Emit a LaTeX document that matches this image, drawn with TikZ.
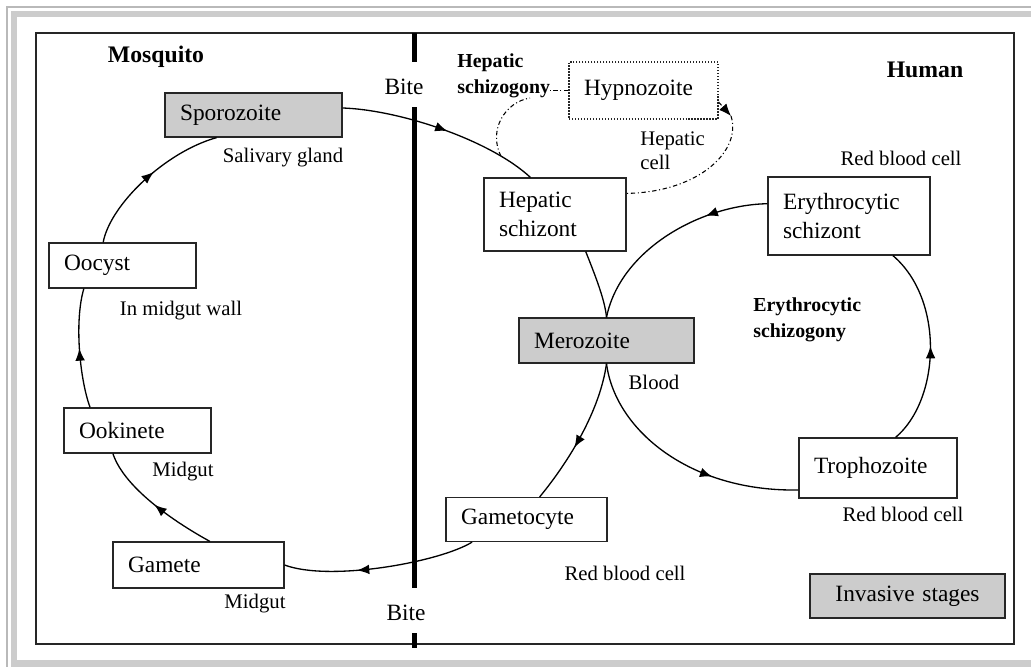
\documentclass[tikz,border=0pt]{standalone}
\usepackage{fontspec}
\setmainfont{Liberation Serif}
\usetikzlibrary{arrows.meta}
\usetikzlibrary{decorations.markings}
\usetikzlibrary{positioning}

\newcommand\stagefont{\fontsize{13.3}{16.5}\selectfont}
\newcommand\notefont{\fontsize{11.8}{13.8}\selectfont}
\newcommand\headfont{\fontsize{13.5}{16}\selectfont\bfseries}
\newcommand\subheadfont{\fontsize{11.3}{14.5}\selectfont\bfseries}
\definecolor{stagegray}{gray}{0.8}

\tikzset{
    stage/.style 2 args={draw=black!85, line width=0.7pt, text width=#1cm,
        minimum height=#2cm, inner xsep=0.3cm, align=left, font=\stagefont},
    note/.style={font=\notefont, inner sep=0pt},
    lifeline/.style={line width=0.75pt},
    midarrow/.style={postaction={decorate}, decoration={markings,
        mark=at position #1 with {\arrow{Latex[length=7pt, width=5.5pt]}}}},
    hepdash/.style={line width=0.6pt, dash pattern=on 2.5pt off 1.5pt on 0.6pt off 1.5pt},
}

\begin{document}
\begin{tikzpicture}[x=0.02cm, y=-0.02cm]
    \useasboundingbox (0,0) rectangle (1031,667);
    \draw[gray!55, line width=0.6pt] (1031,7) -- (7,7) -- (7,667);
    \draw[gray!40, line width=3.5pt] (1031,14) -- (14,14) -- (14,663.5) -- (1031,663.5);
    \draw[black!85, line width=1pt] (36,33) rectangle (1014,644);
    \foreach \a/\b in {33/62, 107/588, 633/648}
        \draw[line width=2.4pt] (414.5,\a) -- (414.5,\b);

    % mosquito side
    \node[stage={2.94}{0.88}, fill=stagegray] (spor) at (253.5,115) {Sporozoite};
    \node[stage={2.34}{0.9}] (oocyst) at (122.5,265.5) {Oocyst};
    \node[stage={2.34}{0.9}] (ookin) at (137.5,430.5) {Ookinete};
    \node[stage={2.82}{0.92}] (gamete) at (198.5,565) {Gamete};

    % human side
    \node[stage={2.38}{1.14}, densely dotted] (hypno) at (643.5,90.5) {Hypnozoite};
    \node[stage={2.24}{1.46}] (hschiz) at (555,214.5) {Hepatic\\schizont};
    \node[stage={2.64}{1.56}] (eschiz) at (849,216) {Erythrocytic\\schizont};
    \node[stage={2.90}{0.9}, fill=stagegray] (mero) at (606.5,340.5) {Merozoite};
    \node[stage={2.56}{1.2}] (troph) at (878,468) {Trophozoite};
    \node[stage={2.62}{0.88}] (gcyte) at (526.5,519.5) {Gametocyte};
    \node[stage={3.30}{0.88}, fill=stagegray, align=center] (invasive) at (907.5,596) {Invasive stages};

    % labels
    \node[font=\headfont] (mosquito) at (156,57) {Mosquito};
    \node[font=\headfont] (human) at (925,70) {Human};
    \node[font=\stagefont, inner sep=0pt] (bitetop) at (404,87) {Bite};
    \node[font=\stagefont, inner sep=0pt] (bitebot) at (406,613) {Bite};
    \node[note] (salivary) at (283,158) {Salivary gland};
    \node[note] (midwall) at (181,311) {In midgut wall};
    \node[note] (midgut1) at (183,472) {Midgut};
    \node[note] (midgut2) at (255,604) {Midgut};
    \node[note] (rbcgcyte) at (625,573) {Red blood cell};
    \node[note] (blood) at (654,382) {Blood};
    \node[note] (rbctroph) at (903,514) {Red blood cell};
    \node[note] (rbcschiz) at (901,158) {Red blood cell};
    \node[note, anchor=west, align=left, font=\fontsize{11.8}{13.6}\selectfont] (hepcell) at (640,151) {Hepatic\\cell};
    \node[anchor=west, align=left, inner sep=0pt, font=\subheadfont] (hepsch) at (457,76) {Hepatic\\schizogony};
    \node[anchor=west, align=left, inner sep=0pt, font=\subheadfont] (erysch) at (753,320) {Erythrocytic\\schizogony};

    % cycles
    \draw[lifeline, midarrow=0.53] ([yshift=4pt]spor.east) .. controls (400,110) and (490,140) .. ([xshift=-14pt]hschiz.north)
        coordinate[pos=0.8] (hepfork);
    \draw[lifeline, midarrow=0.55] ([xshift=-11pt]oocyst.north) .. controls (110,205) and (165,152) .. ([xshift=-21pt]spor.south);
    \draw[lifeline, midarrow=0.5] ([xshift=-27pt]ookin.north) .. controls (80,380) and (74,322) .. ([xshift=-22pt]oocyst.south);
    \draw[lifeline, midarrow=0.5] ([xshift=6.5pt]gamete.north) .. controls (180,525) and (125,490) .. ([xshift=-14pt]ookin.south);
    \draw[lifeline, midarrow=0.62] ([xshift=-31pt]gcyte.south) .. controls (440,562) and (330,582) .. (gamete.east);
    \draw[lifeline, midarrow=0.6] (mero.south) .. controls (600,410) and (570,460) .. ([xshift=7.5pt]gcyte.north);
    \draw[lifeline, midarrow=0.65] (mero.south) .. controls (615,430) and (690,492) .. ([yshift=-12.5pt]troph.west);
    \draw[lifeline, midarrow=0.5] ([xshift=10pt]troph.north) .. controls (940,400) and (945,300) .. ([xshift=25pt]eschiz.south);
    \draw[lifeline, midarrow=0.3] ([yshift=7pt]eschiz.west) .. controls (700,205) and (620,250) .. (mero.north);
    \draw[lifeline] ([xshift=17.5pt]hschiz.south) .. controls (595,275) and (605,300) .. (mero.north);

    % hepatic loop
    \coordinate (hepend) at (530,98);
    \coordinate (hyptip) at (731,116);
    \draw[hepdash] (hepfork) .. controls (488,130) and (505,102) .. (hepend);
    \draw[hepdash] (hypno.west) -- (hepsch.east |- hypno.west);
    \draw[hepdash, -{Latex[length=7pt, width=5.5pt]}] ([yshift=10pt]hypno.south east) -- (hyptip);
    \draw[hepdash] (hyptip) .. controls (742,150) and (700,192) .. ([yshift=12pt]hschiz.east);
\end{tikzpicture}
\end{document}
